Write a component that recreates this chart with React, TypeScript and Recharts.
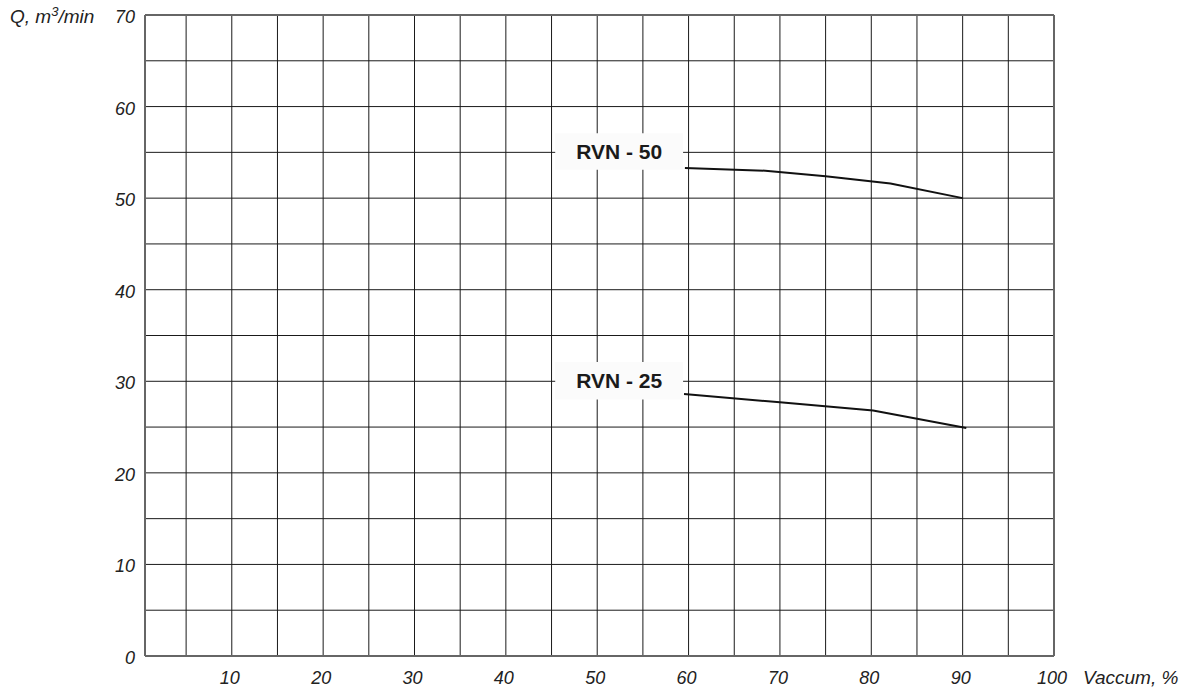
import { CartesianGrid, Line, LineChart, ReferenceArea, ReferenceLine, XAxis, YAxis } from 'recharts';

const FONT = '"Liberation Sans", Arial, sans-serif';

// grid every 5, labels every 10
const vacuumTicks = [5, 10, 15, 20, 25, 30, 35, 40, 45, 50, 55, 60, 65, 70, 75, 80, 85, 90, 95, 100];
const flowTicks = [0, 5, 10, 15, 20, 25, 30, 35, 40, 45, 50, 55, 60, 65, 70];

const rvn50Vacuum = [59.6, 68.4, 75, 82.1, 90];
const rvn50Flow = [53.3, 53.0, 52.4, 51.6, 50.0];

const rvn25Vacuum = [59.5, 70, 80.2, 90.4];
const rvn25Flow = [28.6, 27.7, 26.8, 24.9];

const rvn50 = rvn50Vacuum.map((x, i) => ({ x, q: rvn50Flow[i] }));
const rvn25 = rvn25Vacuum.map((x, i) => ({ x, q: rvn25Flow[i] }));

function XTick(props: any) {
  const { x, y, payload } = props;
  if (payload.value % 10 !== 0) return <g />;
  return (
    <text x={x - 2} y={y + 20} textAnchor="middle" fontSize={18} fontStyle="italic" fill="#222" fontFamily={FONT}>
      {payload.value}
    </text>
  );
}

function YTick(props: any) {
  const { x, y, payload } = props;
  if (payload.value % 10 !== 0) return <g />;
  return (
    <text x={x - 2} y={y + 8} textAnchor="end" fontSize={18} fontStyle="italic" fill="#222" fontFamily={FONT}>
      {payload.value}
    </text>
  );
}

const boxLabel = (value: string) => ({
  value,
  position: 'center' as const,
  fontSize: 21,
  fontWeight: 'bold',
  fill: '#1a1a1a',
  fontFamily: FONT,
});

export default function App() {
  return (
    <div style={{ position: 'absolute', left: 0, top: 0, width: 1186, height: 692, background: '#fff', fontFamily: FONT }}>
      <LineChart width={1186} height={692} margin={{ top: 15, right: 132, bottom: 0, left: 85 }}>
        <CartesianGrid stroke="#1a1a1a" strokeWidth={1} />
        <XAxis
          type="number"
          dataKey="x"
          domain={[0.5, 100]}
          ticks={vacuumTicks}
          allowDataOverflow
          height={36}
          tickLine={false}
          axisLine={{ stroke: '#666', strokeWidth: 2 }}
          tick={<XTick />}
        />
        <YAxis
          type="number"
          domain={[0, 70]}
          ticks={flowTicks}
          width={60}
          tickLine={false}
          axisLine={{ stroke: '#666', strokeWidth: 2 }}
          tick={<YTick />}
        />
        <ReferenceLine y={70} stroke="#666" strokeWidth={2} />
        <ReferenceLine x={100} stroke="#666" strokeWidth={2} />
        <ReferenceArea x1={45.4} x2={59.4} y1={53.1} y2={57.1} fill="#fbfbfb" fillOpacity={1} label={boxLabel('RVN - 50')} />
        <ReferenceArea x1={45.4} x2={59.4} y1={28.0} y2={32.1} fill="#fbfbfb" fillOpacity={1} label={boxLabel('RVN - 25')} />
        <Line data={rvn50} dataKey="q" type="linear" stroke="#111" strokeWidth={2} dot={false} isAnimationActive={false} />
        <Line data={rvn25} dataKey="q" type="linear" stroke="#111" strokeWidth={2} dot={false} isAnimationActive={false} />
      </LineChart>
      <div style={{ position: 'absolute', left: 10, top: 6, fontSize: 19, fontStyle: 'italic', color: '#222', whiteSpace: 'nowrap' }}>
        Q, m<sup style={{ fontSize: 13, verticalAlign: 0, position: 'relative', top: -7 }}>3</sup>/min
      </div>
      <div style={{ position: 'absolute', left: 1083, top: 667, fontSize: 19, fontStyle: 'italic', color: '#222', whiteSpace: 'nowrap' }}>
        Vaccum, %
      </div>
    </div>
  );
}
